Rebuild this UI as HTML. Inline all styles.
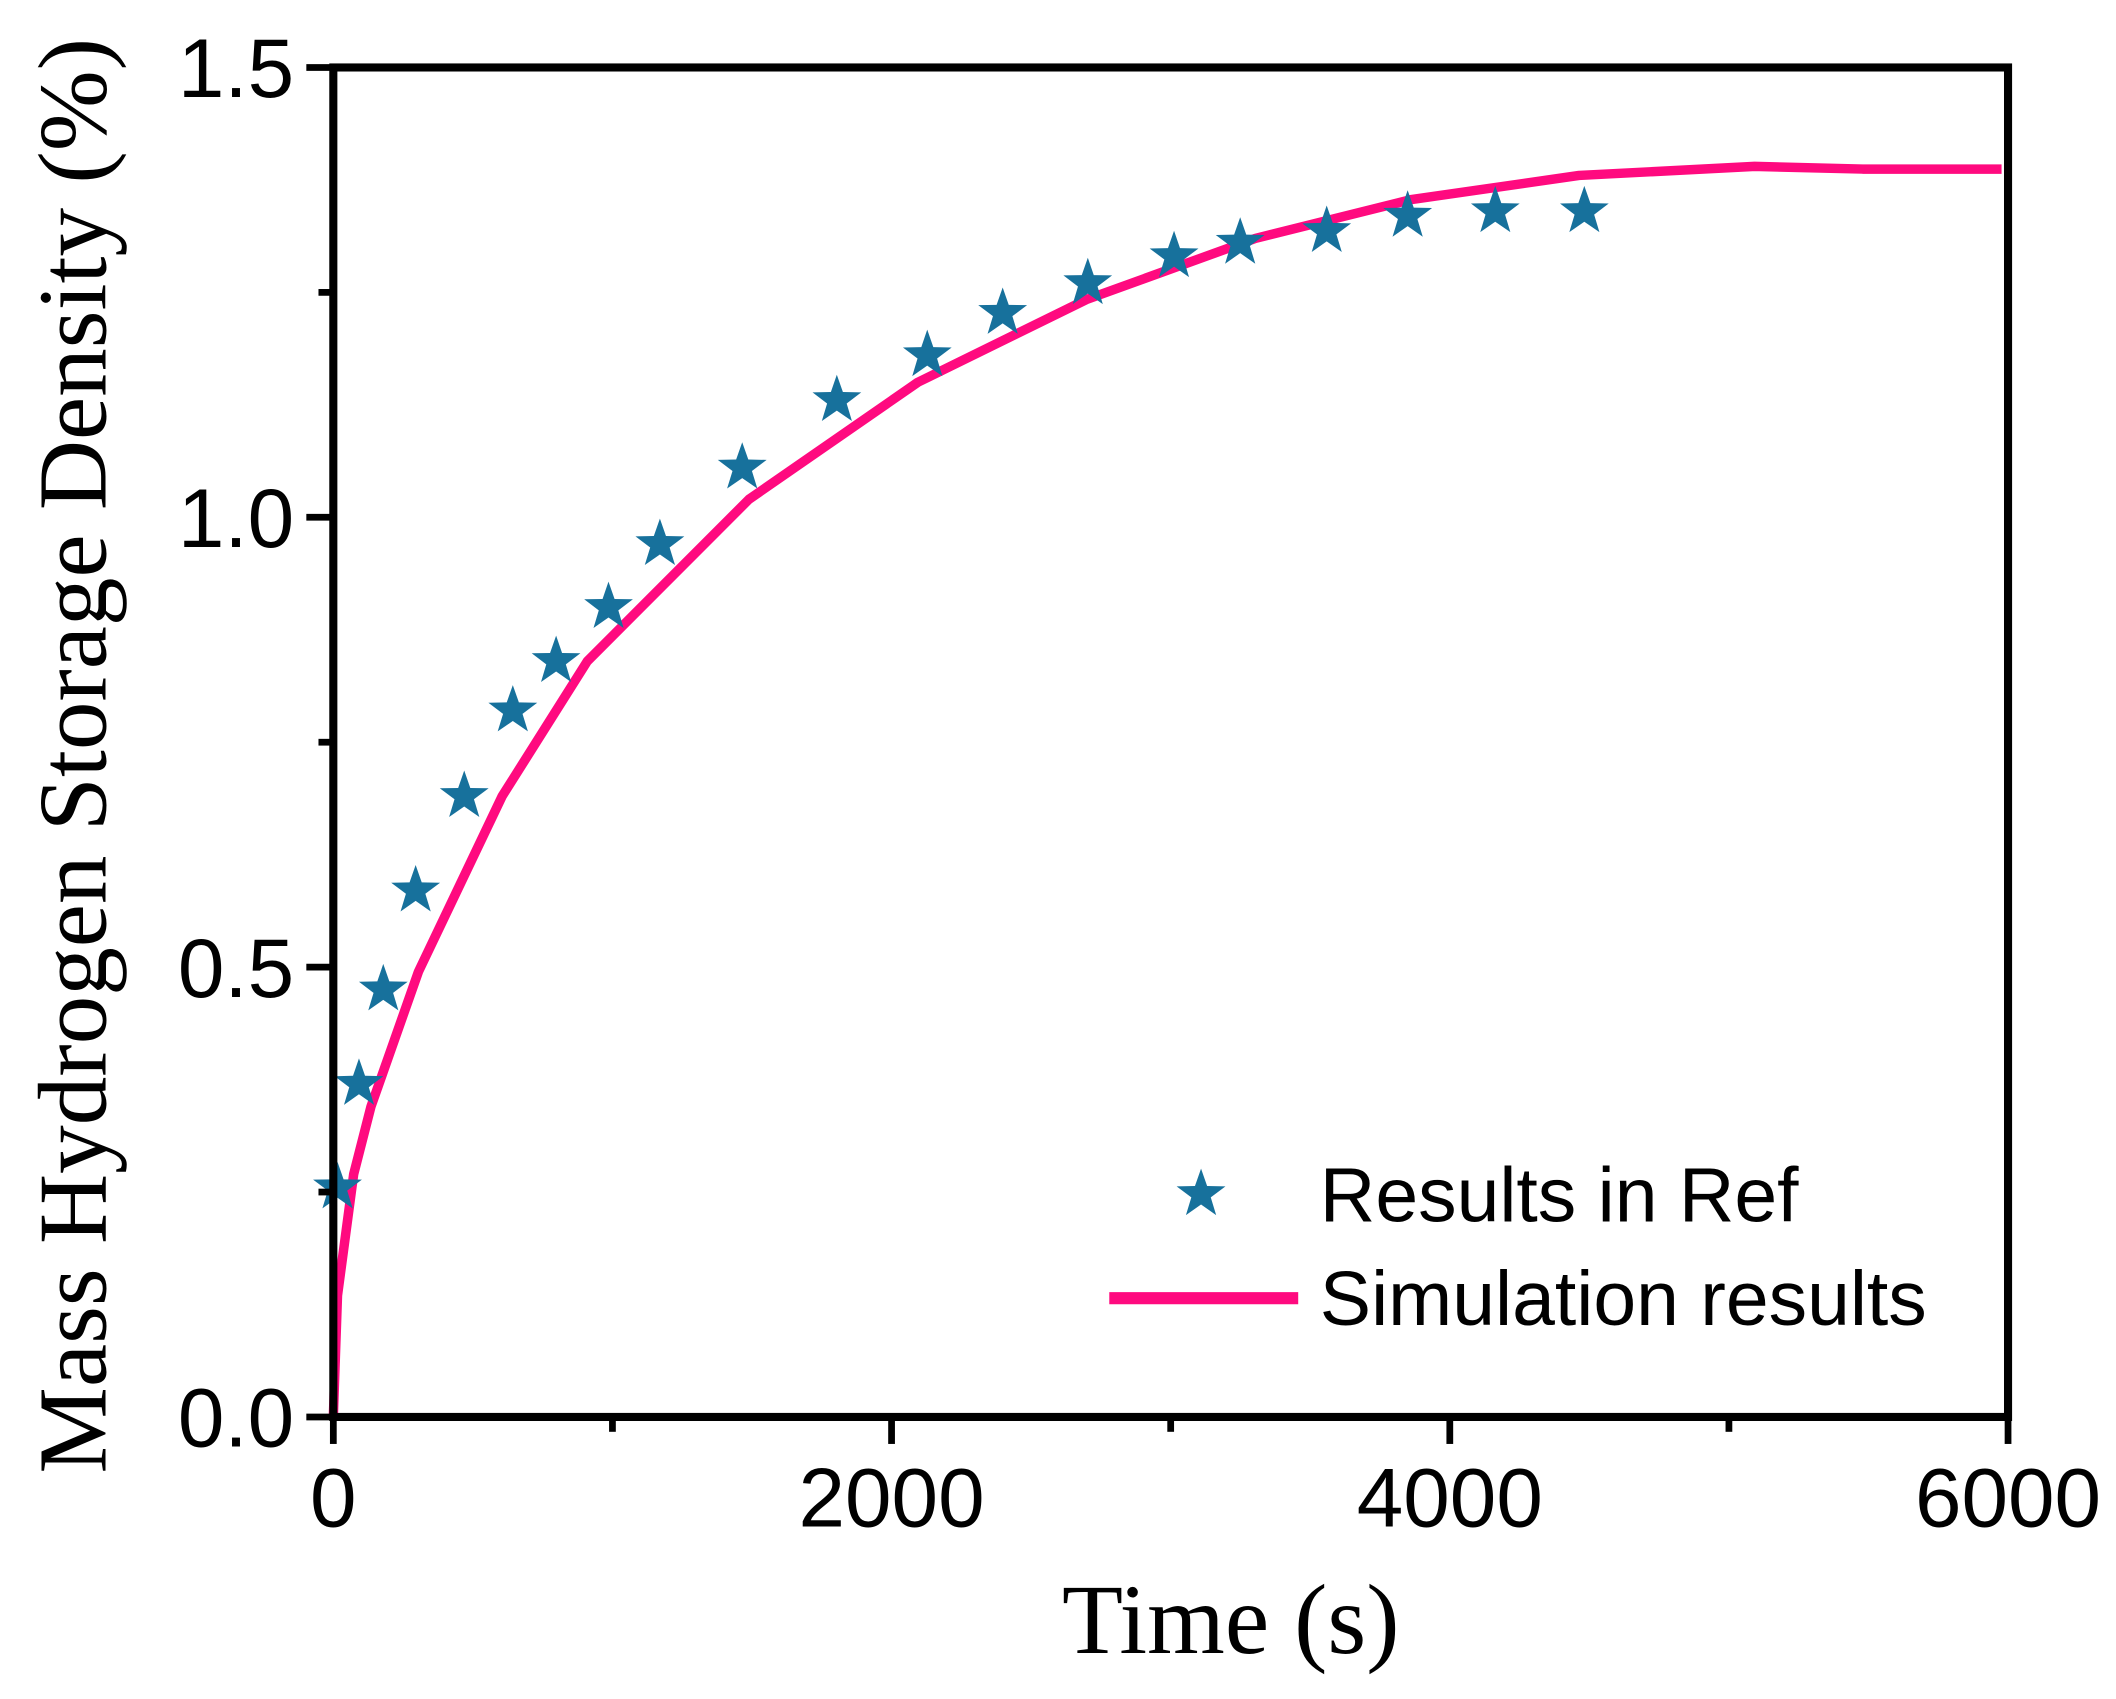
<!DOCTYPE html>
<html><head><meta charset="utf-8"><style>html,body{margin:0;padding:0;background:#fff}svg{display:block}</style></head>
<body>
<svg id="chart" width="2116" height="1699" viewBox="0 0 1568 1259" preserveAspectRatio="none" xmlns="http://www.w3.org/2000/svg">
<g id="plot"></g>
<text transform="translate(78,560) rotate(-90)" text-anchor="middle" font-family="Liberation Serif, serif" font-size="72">Mass Hydrogen Storage Density (%)</text>
<text x="912" y="1225" text-anchor="middle" font-family="Liberation Serif, serif" font-size="74">Time (s)</text>
<g>
<path id="lstar" fill="#17719c"/>
<text x="978" y="905" font-family="Liberation Sans, sans-serif" font-size="57">Results in Ref</text>
<line x1="822" y1="962" x2="962" y2="962" stroke="#ff0a7f" stroke-width="9"/>
<text x="978" y="982" font-family="Liberation Sans, sans-serif" font-size="57">Simulation results</text>
</g>
</svg>
<script>
const refTimes=[15,92,179,295,469,643,798,986,1170,1465,1804,2128,2398,2703,3012,3249,3559,3849,4163,4482];
const refValues=[0.255,0.37,0.475,0.585,0.69,0.785,0.84,0.9,0.97,1.055,1.13,1.18,1.227,1.26,1.29,1.305,1.318,1.335,1.34,1.34];
const simTimes=[0,15,73,135,305,605,910,1489,2094,2698,3303,3859,4463,5092,5479,5977];
const simValues=[0,0.135,0.27,0.345,0.495,0.69,0.84,1.02,1.15,1.242,1.31,1.353,1.38,1.39,1.387,1.387];
const xTicks=[0,2000,4000,6000];
const xTickLabels=['0','2000','4000','6000'];
const yTicks=[0,0.5,1.0,1.5];
const yTickLabels=['0.0','0.5','1.0','1.5'];
const X0=247,X1=1488,Y0=1050,Y1=50;
const sx=v=>X0+(v/6000)*(X1-X0);
const sy=v=>Y0-(v/1.5)*(Y0-Y1);
const NS='http://www.w3.org/2000/svg';
const g=document.getElementById('plot');
function mk(t,a){const e=document.createElementNS(NS,t);for(const k in a)e.setAttribute(k,a[k]);g.appendChild(e);return e;}
function starPath(cx,cy,R){const r=R*0.4;let d='';for(let i=0;i<10;i++){const rr=i%2?r:R;const a=-Math.PI/2+i*Math.PI/5;d+=(i?'L':'M')+(cx+rr*Math.cos(a)).toFixed(1)+','+(cy+rr*Math.sin(a)).toFixed(1);}return d+'Z';}
let d='';simTimes.forEach((t,i)=>{d+=(i?'L':'M')+sx(t).toFixed(1)+','+sy(simValues[i]).toFixed(1);});
const ln=mk('path',{d:d,fill:'none',stroke:'#ff0a7f','stroke-width':7,'stroke-linejoin':'round'});


refTimes.forEach((t,i)=>{const s=mk('path',{d:starPath(sx(t),sy(refValues[i]),19),fill:'#17719c'});

});
const fr=mk('rect',{x:X0,y:Y1,width:X1-X0,height:Y0-Y1,fill:'none',stroke:'#000','stroke-width':6});


for(let v=0;v<=6000;v+=1000){const major=v%2000===0;const tk=mk('line',{x1:sx(v),x2:sx(v),y1:Y0,y2:Y0+(major?20:11),stroke:'#000','stroke-width':5});

}
xTicks.forEach((v,i)=>{const t=mk('text',{x:sx(v),y:1131,'text-anchor':'middle','font-family':'Liberation Sans, sans-serif','font-size':62});t.textContent=xTickLabels[i];

});
for(let v=0;v<=1.5001;v+=0.25){const major=Math.abs(v*2-Math.round(v*2))<1e-6;const tk=mk('line',{x1:X0,x2:X0-(major?20:11),y1:sy(v),y2:sy(v),stroke:'#000','stroke-width':5});

}
yTicks.forEach((v,i)=>{const t=mk('text',{x:218,y:sy(v)+22,'text-anchor':'end','font-family':'Liberation Sans, sans-serif','font-size':62});t.textContent=yTickLabels[i];

});
document.getElementById('lstar').setAttribute('d',starPath(890,885,19));
</script>
</body></html>
